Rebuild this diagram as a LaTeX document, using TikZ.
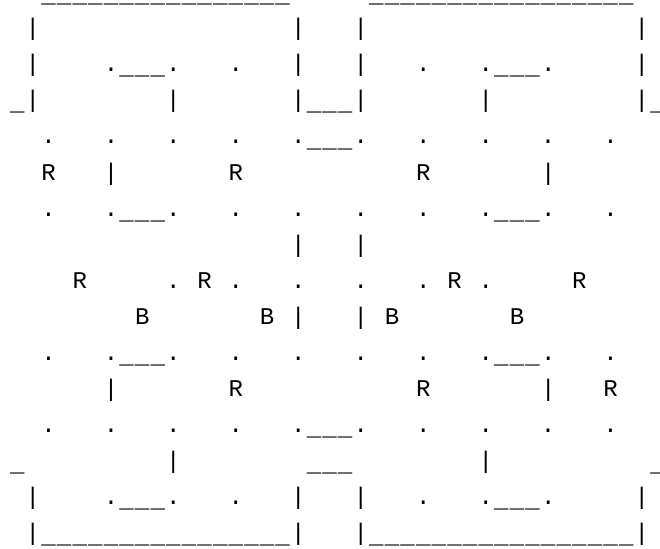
\documentclass[tikz,border=0pt]{standalone}
\usepackage{fontspec}
\newfontfamily\artfont{Liberation Mono}
\newlength\cellw
\setlength\cellw{15.615pt}
% active space prints nothing, the cell box gives the width
{\catcode`\ =13\gdef {}}
{\catcode`\_=12 \global\let\artunder=_}
\newcommand\artstop{artstop}
\newcommand\artscan[1]{\ifx\artstop#1\else\makebox[\cellw]{\ifx\artunder#1\raisebox{-3pt}{#1}\else#1\fi}\expandafter\artscan\fi}
\newcommand\artline{\begingroup\catcode`\ =13\relax\catcode`\_=12\relax\artlinex}
\newcommand\artlinex[1]{\artscan#1\artstop\endgroup}
\tikzset{artrow/.style={anchor=base west, inner sep=0pt, font={\artfont\fontsize{24}{36}\selectfont}}}
\begin{document}
\begin{tikzpicture}[x=1pt,y=1pt]
    \useasboundingbox (0,0) rectangle (660,-548);
    \node[artrow] (row1) at (9.28,0) {\artline{  ________________     _________________}};
    \node[artrow] (row2) at (9.28,-36) {\artline{ |                |   |                 |}};
    \node[artrow] (row3) at (9.28,-72) {\artline{ |    .___.   .   |   |   .   .___.     |}};
    \node[artrow] (row4) at (9.28,-108) {\artline{_|        |       |___|       |         |_}};
    \node[artrow] (row5) at (9.28,-144) {\artline{  .   .   .   .   .___.   .   .   .   .}};
    \node[artrow] (row6) at (9.28,-180) {\artline{  R   |       R           R       |}};
    \node[artrow] (row7) at (9.28,-216) {\artline{  .   .___.   .   .   .   .   .___.   .}};
    \node[artrow] (row8) at (9.28,-252) {\artline{                  |   |}};
    \node[artrow] (row9) at (9.28,-288) {\artline{    R     . R .   .   .   . R .     R}};
    \node[artrow] (row10) at (9.28,-324) {\artline{        B       B |   | B       B}};
    \node[artrow] (row11) at (9.28,-360) {\artline{  .   .___.   .   .   .   .   .___.   .}};
    \node[artrow] (row12) at (9.28,-396) {\artline{      |       R           R       |   R}};
    \node[artrow] (row13) at (9.28,-432) {\artline{  .   .   .   .   .___.   .   .   .   .}};
    \node[artrow] (row14) at (9.28,-468) {\artline{_         |        ___        |          _}};
    \node[artrow] (row15) at (9.28,-504) {\artline{ |    .___.   .   |   |   .   .___.     |}};
    \node[artrow] (row16) at (9.28,-540) {\artline{ |________________|   |_________________|}};
\end{tikzpicture}
\end{document}
